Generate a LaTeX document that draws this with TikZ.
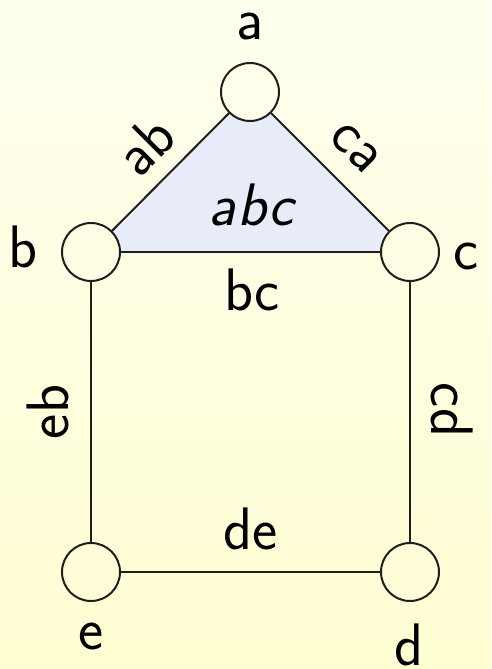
\documentclass[tikz,border=0pt]{standalone}
\definecolor{bgtop}{RGB}{255,255,240}
\definecolor{bgbot}{RGB}{255,254,210}
\definecolor{tri}{RGB}{232,236,248}
\definecolor{edge}{RGB}{30,30,30}
\begin{document}
\begin{tikzpicture}[x=1pt,y=-1pt,
  vert/.style={circle,draw=edge,line width=2pt,minimum size=58pt,inner sep=0pt},
  lbl/.style={inner sep=0pt,font=\fontsize{60}{72}\selectfont\sffamily},
  thick edge/.style={draw=edge,line width=2pt},
  thin edge/.style={draw=edge,line width=1.4pt}]
\shade[top color=bgtop,bottom color=bgbot] (0,0) rectangle (491,669);
\useasboundingbox (0,0) rectangle (491,669);
\coordinate (ca0) at (250,92);
\coordinate (cb0) at (91,252);
\coordinate (cc0) at (410,252);
\fill[tri] (ca0) -- (cb0) -- (cc0) -- cycle;
\node[vert,fill=bgtop!85!bgbot] (a) at (ca0) {};
\node[vert,fill=bgtop!65!bgbot] (b) at (cb0) {};
\node[vert,fill=bgtop!65!bgbot] (c) at (cc0) {};
\node[vert,fill=bgtop!20!bgbot] (e) at (91,572) {};
\node[vert,fill=bgtop!20!bgbot] (d) at (410,572) {};
\draw[thick edge] (a) -- (b);
\draw[thick edge] (a) -- (c);
\draw[thin edge] (b) -- (c);
\draw[thin edge] (b) -- (e);
\draw[thin edge] (c) -- (d);
\draw[thin edge] (e) -- (d);
\node[lbl] (la) at (250,26) {a};
\node[lbl] (lb) at (23,247) {b};
\node[lbl] (lc) at (466,256) {c};
\node[lbl] (le) at (91,636) {e};
\node[lbl] (ld) at (409,645) {d};
\node[lbl,rotate=45] (lab) at (145,145) {ab};
\node[lbl,rotate=-45] (lca) at (355,148) {ca};
\node[lbl] (lbc) at (252,290) {bc};
\node[lbl,rotate=90] (leb) at (48,412) {eb};
\node[lbl,rotate=-90] (lcd) at (452,410) {cd};
\node[lbl] (lde) at (251,529) {de};
\node[lbl,font=\fontsize{60}{72}\selectfont\sffamily\itshape] (labc) at (251,205) {a\kern2pt b\kern2pt c};
\end{tikzpicture}
\end{document}
